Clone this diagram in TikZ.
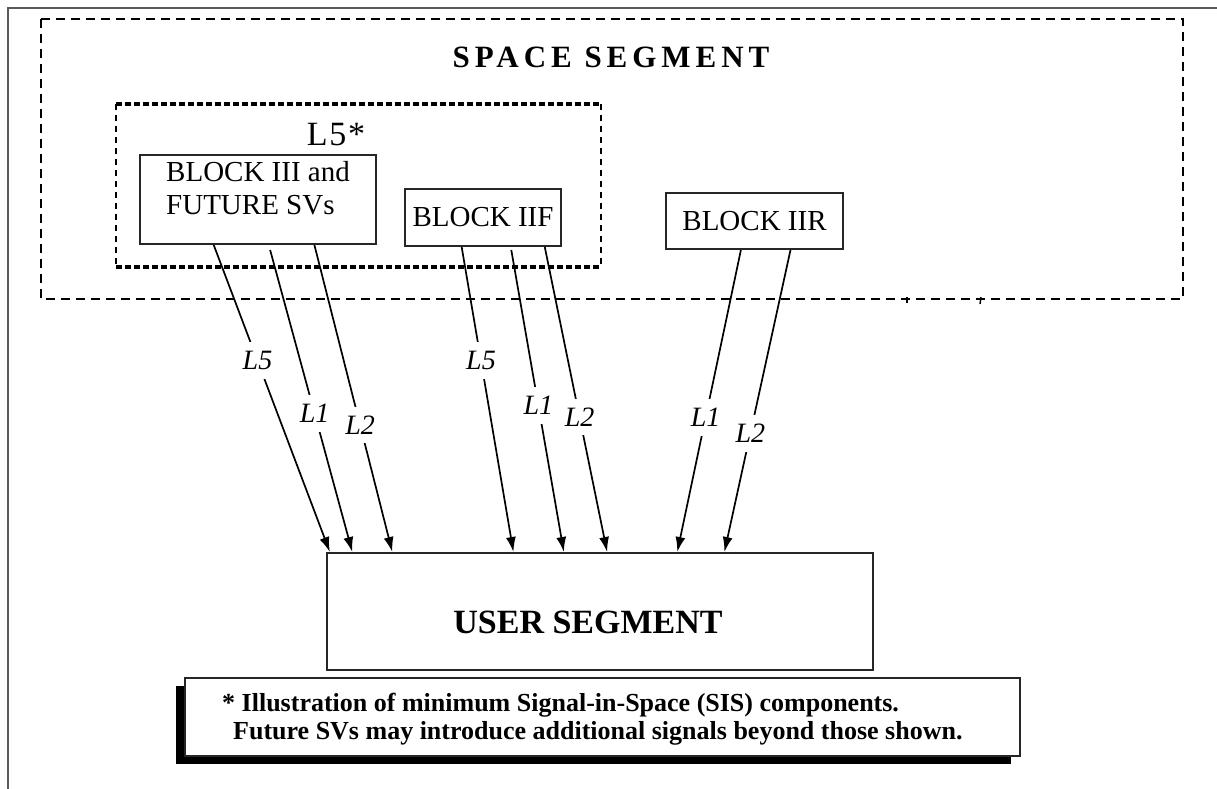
\documentclass[tikz,border=0pt]{standalone}
\usepackage{fontspec}
\setmainfont{Liberation Serif}
\usetikzlibrary{arrows.meta,calc}
\begin{document}
\begin{tikzpicture}[x=1pt,y=-1pt,
  boxst/.style={draw=black!85, line width=2pt, inner sep=0pt},
  txt/.style={font=\fontsize{29}{33}\selectfont, inner sep=0pt},
  sig/.style={line width=1.7pt, -{Latex[length=15pt,width=10pt]}},
  lbl/.style={fill=white, font=\fontsize{28}{28}\selectfont\itshape, inner xsep=1pt, inner ysep=9pt},
  outerdash/.style={line width=2pt, dash pattern=on 9pt off 6pt},
  innerdashh/.style={line width=3.4pt, dash pattern=on 6pt off 3pt},
  innerdashv/.style={line width=2.4pt, dash pattern=on 6pt off 5pt},
  frameline/.style={draw=black!65, line width=2.4pt}
]
\useasboundingbox (0,0) rectangle (1217,789);
% page frame
\draw[frameline] (8,789) -- (8,8) -- (1217,8);
% space segment
\draw[outerdash] (41,19) rectangle (1183,299);
\draw[line width=1.4pt] (907,297) -- (907,303);
\draw[line width=1.4pt] (981,297) -- (980,304);
\node[font=\fontsize{31}{31}\selectfont\bfseries\addfontfeatures{LetterSpace=16}, inner sep=0pt] (ss) at (611,57) {SPACE SEGMENT};
% L5 group
\draw[innerdashh] (116,104) -- (601,104);
\draw[innerdashh] (116,267) -- (601,267);
\draw[innerdashv] (116,104) -- (116,267);
\draw[innerdashv] (601,104) -- (601,267);
\node[font=\fontsize{34}{34}\selectfont\addfontfeatures{LetterSpace=5}, inner sep=0pt] (l5star) at (336,135) {L5*};
% blocks
\node[boxst, minimum width=236pt, minimum height=89pt, anchor=north west] (b3) at (139,154) {};
\node[txt, align=left, anchor=north west] (b3t) at (166,161) {BLOCK III and\\FUTURE SVs};
\node[boxst, txt, minimum width=156pt, minimum height=57pt, anchor=north west] (bf) at (404,188) {BLOCK IIF};
\node[boxst, txt, minimum width=177pt, minimum height=56pt, anchor=north west] (br) at (665,192) {BLOCK IIR};
% user segment
\node[boxst, minimum width=546pt, minimum height=117pt, anchor=north west] (us) at (326,552) {};
\node[font=\fontsize{34}{34}\selectfont\bfseries, inner sep=0pt] (ust) at (588,622) {USER SEGMENT};
% signals
\draw[sig] ($(b3.south west)!0.314!(b3.south east)$) -- node[lbl, pos=0.377] (a5) {L5} ($(us.north west)!0.007!(us.north east)$);
\draw[sig] ($(b3.south west)!0.551!(b3.south east)+(0,5)$) -- node[lbl, pos=0.541] (a1) {L1} ($(us.north west)!0.048!(us.north east)$);
\draw[sig] ($(b3.south west)!0.737!(b3.south east)$) -- node[lbl, pos=0.587] (a2) {L2} ($(us.north west)!0.121!(us.north east)$);
\draw[sig] ($(bf.south west)!0.365!(bf.south east)$) -- node[lbl, pos=0.373] (f5) {L5} ($(us.north west)!0.342!(us.north east)$);
\draw[sig] ($(bf.south west)!0.679!(bf.south east)+(0,3)$) -- node[lbl, pos=0.515] (f1) {L1} ($(us.north west)!0.434!(us.north east)$);
\draw[sig] ($(bf.south west)!0.891!(bf.south east)$) -- node[lbl, pos=0.558] (f2) {L2} ($(us.north west)!0.513!(us.north east)$);
\draw[sig] ($(br.south west)!0.424!(br.south east)$) -- node[lbl, pos=0.555] (r1) {L1} ($(us.north west)!0.641!(us.north east)$);
\draw[sig] ($(br.south west)!0.701!(br.south east)$) -- node[lbl, pos=0.608] (r2) {L2} ($(us.north west)!0.727!(us.north east)$);
% note
\fill (176,686) rectangle (1011,764);
\node[draw=black!85, line width=1.8pt, fill=white, minimum width=835pt, minimum height=78pt, inner sep=0pt, anchor=north west] (note) at (184,677) {};
\node[font=\fontsize{26}{28}\selectfont\bfseries, inner sep=0pt, anchor=west] (n1) at (222,705) {* Illustration of minimum Signal-in-Space (SIS) components.};
\node[font=\fontsize{26}{28}\selectfont\bfseries, inner sep=0pt, anchor=west] (n2) at (233,733) {Future SVs may introduce additional signals beyond those shown.};
\end{tikzpicture}
\end{document}
